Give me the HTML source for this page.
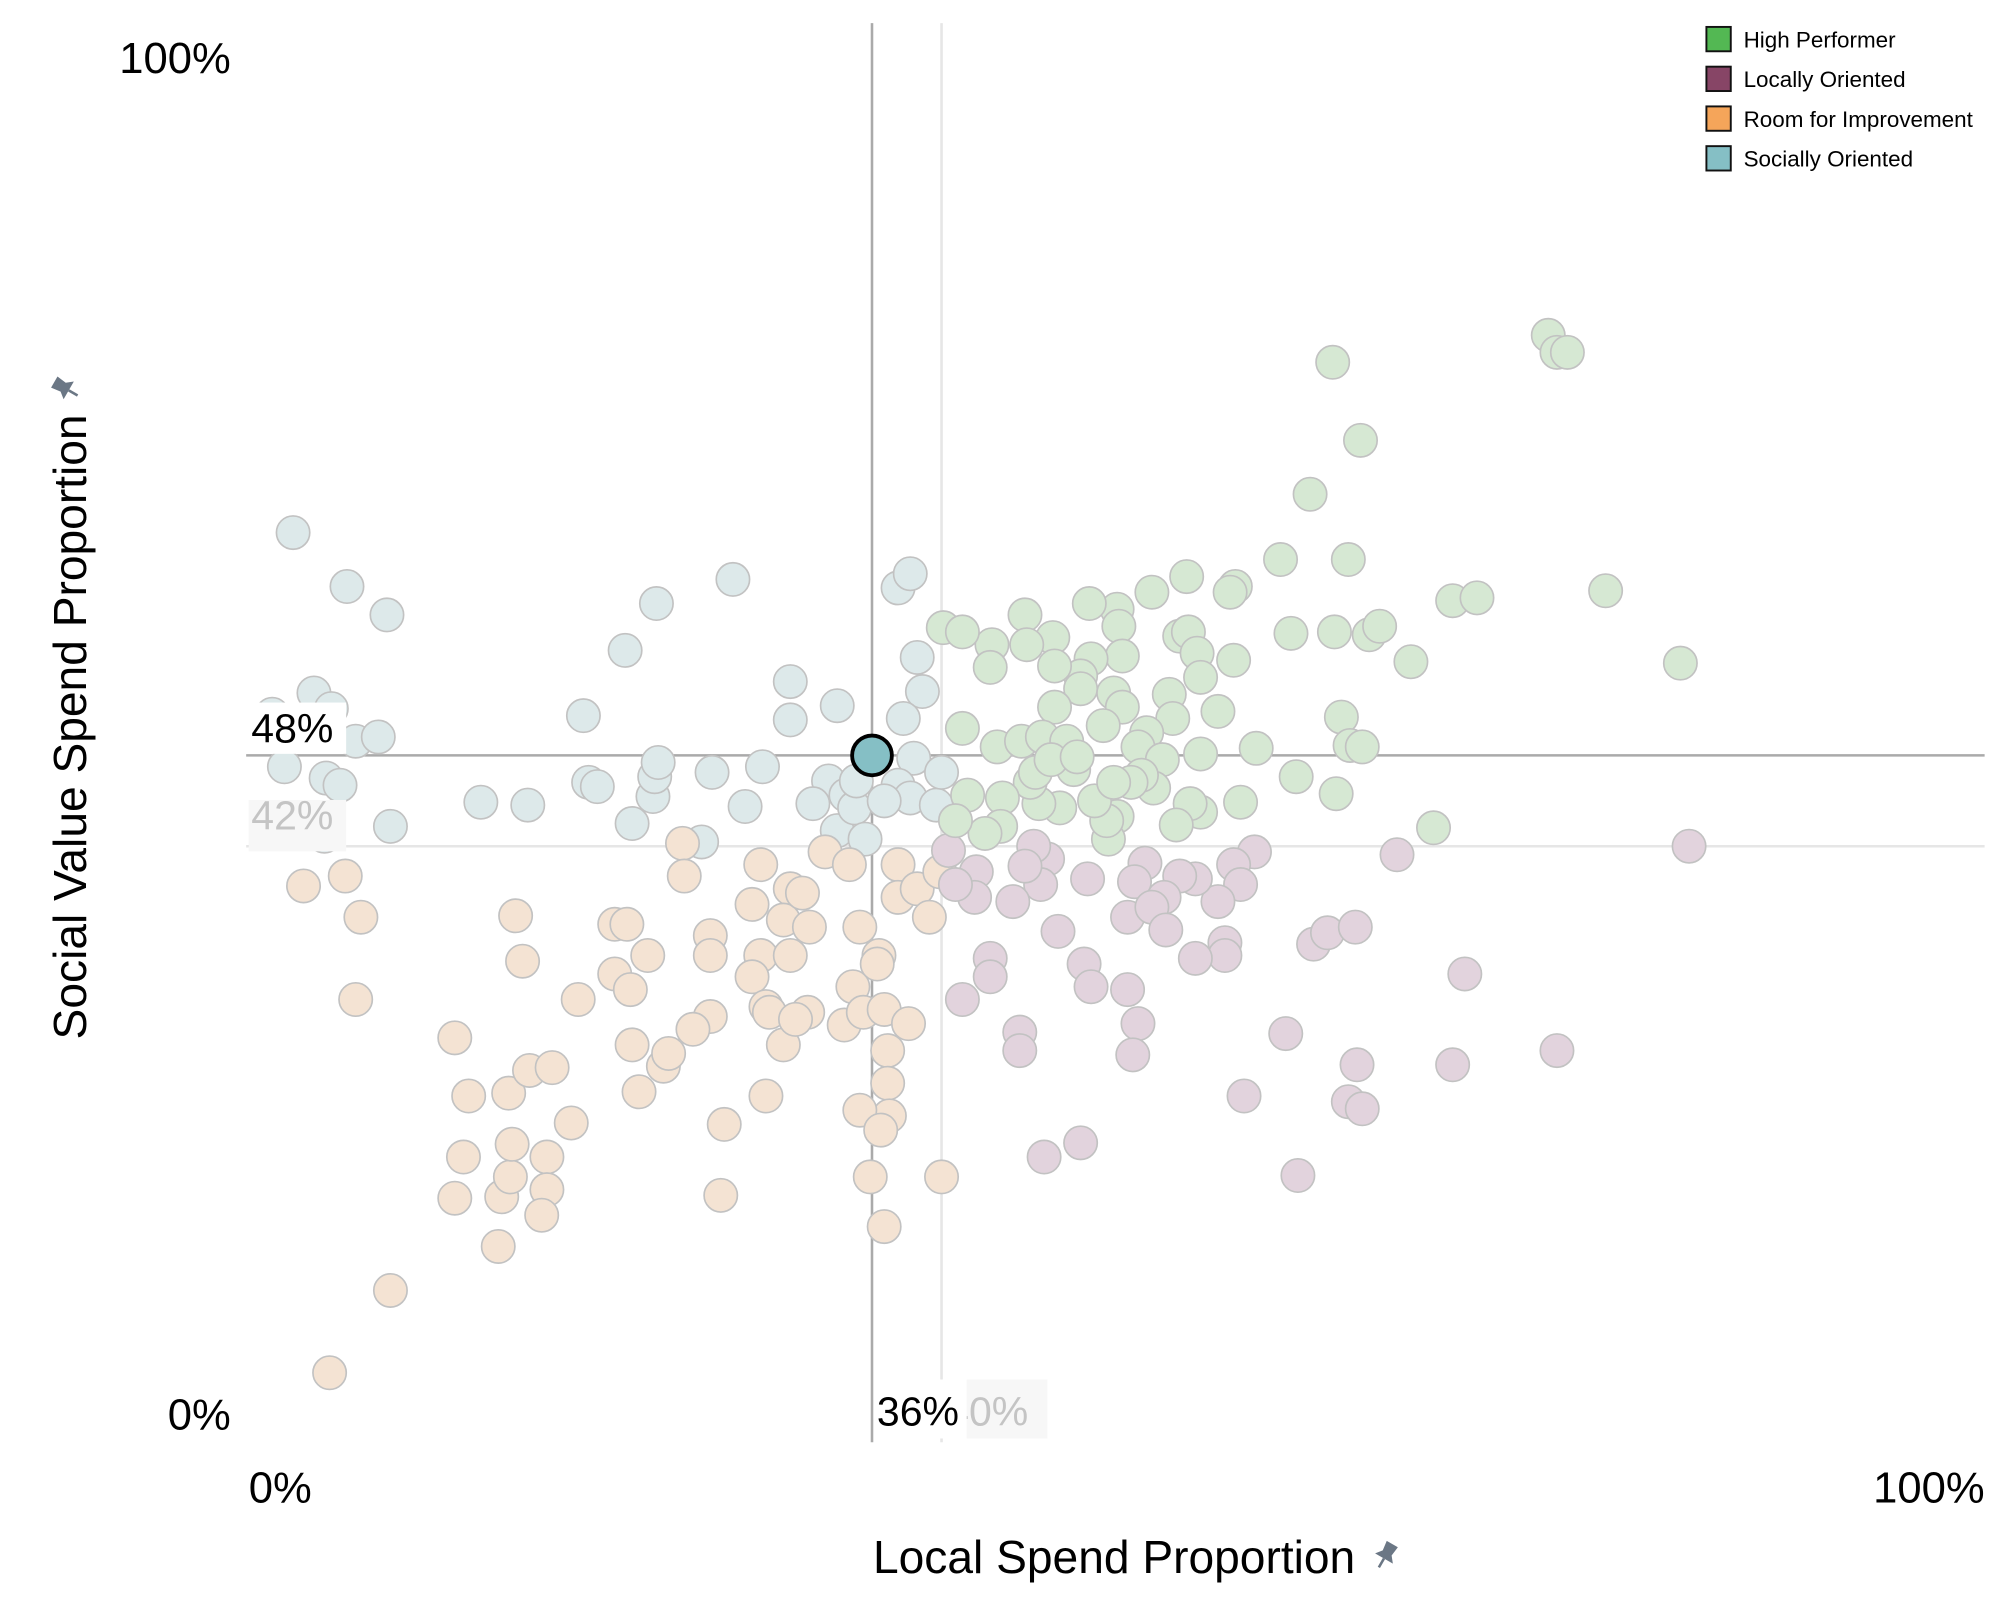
<!DOCTYPE html>
<html><head><meta charset="utf-8"><style>
html,body{margin:0;padding:0;background:#fff;}
svg{display:block;font-family:"Liberation Sans",sans-serif;}
</style></head><body>
<svg id="chart" width="2000" height="1600" viewBox="0 0 1560 1248" xmlns="http://www.w3.org/2000/svg">
<g id="refs"></g>
<g id="pts"></g>
<g id="labels"></g>
<g>
 <rect x="1331" y="21" width="19" height="19" fill="#53b853" stroke="#111" stroke-width="1.5"/>
 <text x="1360" y="37" font-size="17.5">High Performer</text>
 <rect x="1331" y="52" width="19" height="19" fill="#874566" stroke="#111" stroke-width="1.5"/>
 <text x="1360" y="68" font-size="17.5">Locally Oriented</text>
 <rect x="1331" y="83" width="19" height="19" fill="#f5a55a" stroke="#111" stroke-width="1.5"/>
 <text x="1360" y="99" font-size="17.5">Room for Improvement</text>
 <rect x="1331" y="114" width="19" height="19" fill="#85bfc5" stroke="#111" stroke-width="1.5"/>
 <text x="1360" y="130" font-size="17.5">Socially Oriented</text>
</g>
<text x="869" y="1227" font-size="36" text-anchor="middle">Local Spend Proportion</text>
<g transform="translate(1081,1213) rotate(30)" fill="#6b7785">
 <polygon points="-5,-10 5,-10 4,-2 8,3 -8,3 -4,-2"/><rect x="-1" y="3" width="2" height="8"/>
</g>
<text transform="translate(67,567) rotate(-90)" font-size="36" text-anchor="middle">Social Value Spend Proportion</text>
<g transform="translate(51,303) rotate(-60)" fill="#6b7785">
 <polygon points="-5,-10 5,-10 4,-2 8,3 -8,3 -4,-2"/><rect x="-1" y="3" width="2" height="8"/>
</g>
</svg>
<script>
const xTicks=[0,100];
const yTicks=[0,100];
const avgX=36, avgY=48.4;
const benchX=40, benchY=42;
const socialX=[2.7,5.8,8.1,3.9,4.9,1.5,6.3,7.6,2.2,4.6,5.4,4.5,8.3,13.5,16.2,19.4,19.7,20.2,21.8,23.6,22.2,23.4,23.5,23.7,26.2,26.8,28.0,28.7,29.7,31.3,31.3,34.0,33.5,32.6,34.0,34.5,35.0,35.1,37.5,38.2,38.6,38.9,37.8,38.4,37.5,38.2,39.7,35.6,36.7,40.0];
const socialY=[64.1,60.3,58.3,52.8,51.7,51.3,49.4,49.7,47.6,46.8,46.3,42.7,43.4,45.1,44.9,51.2,46.5,46.2,55.8,59.1,43.6,45.5,46.9,47.9,42.3,47.2,60.8,44.8,47.6,53.6,50.9,51.9,46.6,45.0,43.1,45.6,44.7,46.6,60.2,61.2,55.3,52.9,51.0,48.2,46.3,45.4,44.9,42.5,45.2,47.2];
const highX=[74.9,75.4,76.0,62.5,64.1,61.2,59.5,63.4,54.1,56.9,56.6,52.1,50.1,48.5,69.4,70.8,78.2,44.8,50.2,46.4,44.9,42.9,40.1,41.2,53.7,54.2,60.1,62.6,64.6,65.2,67.0,82.5,56.8,54.7,54.9,50.4,48.6,48.0,46.5,42.8,48.0,46.5,49.9,50.4,53.1,53.3,55.9,63.0,63.5,64.2,41.2,43.2,44.6,45.8,47.2,47.6,49.3,51.8,51.3,52.7,54.9,58.1,60.4,62.7,68.3,57.2,54.9,54.3,53.5,52.2,51.5,50.9,50.1,49.6,49.5,48.8,46.8,45.6,45.1,45.4,43.5,43.4,42.5,41.5,40.8,46.3,47.8,49.9];
const highY=[78.0,76.8,76.8,76.1,70.6,66.8,62.2,62.2,61.0,60.3,59.9,59.9,58.7,59.1,59.3,59.5,60.0,58.3,57.5,56.7,56.2,56.2,57.4,57.1,56.8,57.1,57.0,57.1,56.9,57.5,55.0,54.9,55.1,55.6,53.9,55.4,55.2,54.0,54.7,54.6,53.1,51.8,52.8,51.8,52.7,51.0,51.5,51.1,49.1,49.0,50.3,49.0,49.4,49.7,49.4,47.4,50.5,50.0,49.0,48.1,48.5,48.9,46.9,45.7,43.3,45.1,44.4,45.0,43.5,46.1,47.0,46.5,44.1,42.5,43.8,45.2,44.7,45.0,46.5,47.2,45.4,43.4,42.9,45.6,43.8,48.1,48.3,46.5];
const localX=[83.0,66.2,58.0,56.8,57.2,55.9,54.6,53.7,52.8,51.7,51.1,50.7,52.1,52.9,48.4,46.1,45.3,45.7,44.8,44.1,42.0,41.9,40.8,40.4,46.7,48.2,48.6,50.7,51.3,51.0,42.8,42.8,41.2,44.5,44.5,45.9,48.0,57.4,59.8,60.5,61.4,62.2,63.8,56.3,56.3,54.6,63.9,63.4,64.2,69.4,70.1,75.4];
const localY=[42.0,41.4,41.6,40.7,39.3,38.1,39.7,39.9,38.4,40.8,39.5,37.0,37.7,36.1,39.7,41.1,42.0,39.3,40.6,38.1,40.2,38.4,39.3,41.7,36.0,33.7,32.1,31.9,29.5,27.3,34.1,32.8,31.2,28.9,27.6,20.1,21.1,24.4,28.8,18.8,35.1,35.9,36.3,35.2,34.3,34.1,26.6,24.0,23.5,26.6,33.0,27.6];
const roomX=[4.8,8.3,3.3,5.7,6.6,6.3,12.0,12.8,12.5,12.0,14.5,14.7,15.2,15.3,17.3,17.3,17.0,15.1,16.3,17.6,18.7,15.5,15.9,19.1,21.2,21.9,21.2,22.1,23.1,22.2,22.6,24.0,24.3,25.1,25.2,26.7,26.7,26.7,25.7,27.5,27.3,29.1,29.6,29.6,29.1,29.9,30.1,29.9,30.9,31.3,30.9,31.3,32.0,32.4,32.3,31.6,33.3,34.7,35.3,34.4,34.9,35.5,36.7,36.9,36.9,37.0,36.4,36.3,38.1,35.3,36.5,35.9,36.7,40.0,37.5,37.5,38.6,39.3,39.9];
const roomY=[4.9,10.7,39.2,39.9,37.0,31.2,28.5,24.4,20.1,17.2,13.8,17.3,18.7,21.0,20.1,17.8,16.0,24.6,26.2,26.4,22.5,37.1,33.9,31.2,36.5,36.5,33.0,31.9,34.3,28.0,24.7,26.5,27.4,42.2,39.9,35.7,34.3,30.0,29.1,22.4,17.4,37.9,40.7,34.3,32.8,30.7,30.3,24.4,28.0,39.0,36.8,34.3,38.7,36.3,30.3,29.8,41.6,40.7,36.3,29.4,32.1,30.3,30.5,27.6,25.3,23.0,34.3,33.7,29.5,23.4,22.0,18.7,15.2,18.7,40.7,38.4,39.0,37.0,40.2];

const X0=192,X1=1548,Y0=1125,Y1=18;
function sx(v){return X0+(X1-X0)*v/100;}
function sy(v){return Y0-(Y0-Y1)*v/100;}
const NS='http://www.w3.org/2000/svg';
function mk(tag,attrs,parent){const e=document.createElementNS(NS,tag);for(const k in attrs)e.setAttribute(k,attrs[k]);parent.appendChild(e);return e;}
const refs=document.getElementById('refs'),pts=document.getElementById('pts'),labels=document.getElementById('labels');

let l=mk('line',{x1:sx(benchX),x2:sx(benchX),y1:Y1,y2:Y0,stroke:'#e6e6e6','stroke-width':2},refs);


l=mk('line',{x1:X0,x2:X1,y1:sy(benchY),y2:sy(benchY),stroke:'#e6e6e6','stroke-width':2},refs);


l=mk('line',{x1:sx(avgX),x2:sx(avgX),y1:Y1,y2:Y0,stroke:'#aaa','stroke-width':2},refs);


l=mk('line',{x1:X0,x2:X1,y1:sy(avgY),y2:sy(avgY),stroke:'#aaa','stroke-width':2},refs);



const groups=[[socialX,socialY,'#dde9ea','point-socially-oriented'],[roomX,roomY,'#f4e3d3','point-room-for-improvement'],[localX,localY,'#e2d3dd','point-locally-oriented'],[highX,highY,'#d6e8d3','point-high-performer']];
groups.forEach(g=>{for(let i=0;i<g[0].length;i++){
 const c=mk('circle',{cx:sx(g[0][i]),cy:sy(g[1][i]),r:13,fill:g[2],stroke:'#c2c2c2','stroke-width':1.3},pts);
 
 
}});
const sel=mk('circle',{cx:sx(avgX),cy:sy(avgY),r:15.5,fill:'#85bfc5',stroke:'#000','stroke-width':3},pts);



function txt(s,attrs,name){const t=mk('text',attrs,labels);t.textContent=s;
 
 return t;}
txt(yTicks[1]+'%',{x:180,y:57,'font-size':34,'text-anchor':'end'},'y-tick-100');
txt(yTicks[0]+'%',{x:180,y:1115,'font-size':34,'text-anchor':'end'},'y-tick-0');
txt(xTicks[0]+'%',{x:X0+2,y:1172,'font-size':34},'x-tick-0');
txt(xTicks[1]+'%',{x:X1,y:1172,'font-size':34,'text-anchor':'end'},'x-tick-100');
let b=mk('rect',{x:194,y:624,width:76,height:40,fill:'#f7f7f7'},labels);


txt(benchY+'%',{x:196,y:647,'font-size':32,fill:'#c4c4c4'},'benchmark-y-label');
b=mk('rect',{x:194,y:548,width:76,height:40,fill:'#fff'},labels);


txt(Math.round(avgY)+'%',{x:196,y:579,'font-size':32,fill:'#000'},'average-y-label');
b=mk('rect',{x:736,y:1076,width:81,height:46,fill:'#f7f7f7'},labels);


txt(benchX+'%',{x:738,y:1112,'font-size':32,fill:'#c4c4c4'},'benchmark-x-label');
b=mk('rect',{x:682,y:1076,width:72,height:46,fill:'#fff'},labels);


txt(avgX+'%',{x:684,y:1112,'font-size':32,fill:'#000'},'average-x-label');
</script>
</body></html>
